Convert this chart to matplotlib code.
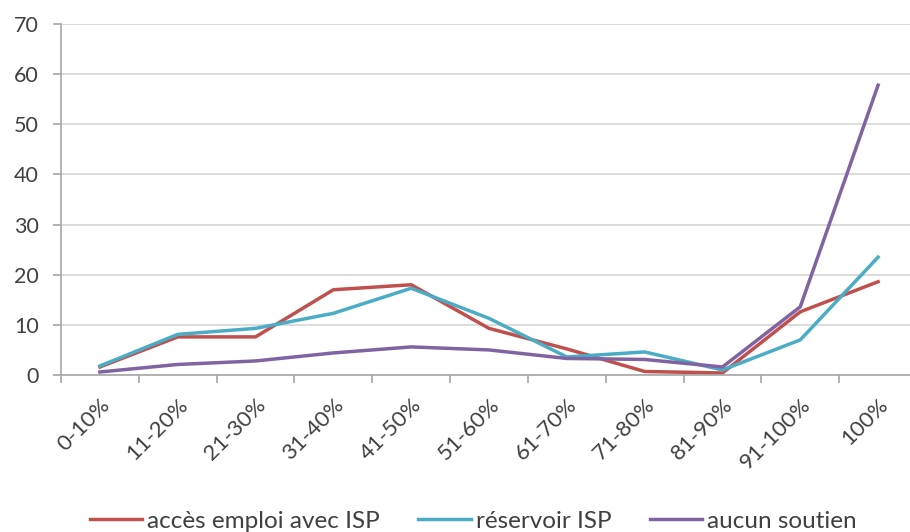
import numpy as np
import matplotlib; matplotlib.use("Agg")
import matplotlib.pyplot as plt
from matplotlib.ticker import FixedLocator, NullFormatter

plt.rcParams["font.family"] = ["Lato", "DejaVu Sans"]

categories = ["0-10%", "11-20%", "21-30%", "31-40%", "41-50%", "51-60%",
              "61-70%", "71-80%", "81-90%", "91-100%", "100%"]
acces_emploi = [1.6, 7.6, 7.6, 17.0, 18.0, 9.3, 5.2, 0.7, 0.4, 12.6, 18.6]
reservoir = [1.8, 8.1, 9.3, 12.3, 17.3, 11.3, 3.6, 4.6, 1.0, 7.0, 23.5]
aucun_soutien = [0.6, 2.1, 2.8, 4.4, 5.6, 5.0, 3.3, 3.1, 1.6, 13.6, 57.8]

W, H = 910, 532
fig = plt.figure(figsize=(W / 100, H / 100), dpi=100)
# plot area runs slightly past the right edge of the canvas
ax = fig.add_axes([61 / W, 1 - 375 / H, (917 - 61) / W, (375 - 24) / H])

x = np.arange(len(categories))
ax.plot(x, acces_emploi, color="#C0504D", lw=2.5, label="accès emploi avec ISP", solid_joinstyle="round")
ax.plot(x, reservoir, color="#4BACC6", lw=2.5, label="réservoir ISP", solid_joinstyle="round")
ax.plot(x, aucun_soutien, color="#8064A2", lw=2.5, label="aucun soutien", solid_joinstyle="round")

ax.set_xlim(-0.5, len(categories) - 0.5)
ax.set_ylim(0, 70)
ax.set_yticks(np.arange(0, 71, 10))
ax.yaxis.grid(True, color="#d9d9d9", lw=1.3)
ax.set_axisbelow(True)

for s in ["top", "right"]:
    ax.spines[s].set_visible(False)
for s in ["left", "bottom"]:
    ax.spines[s].set_color("#a6a6a6")
    ax.spines[s].set_linewidth(1.2)

ax.tick_params(axis="y", length=6, width=1.2, color="#a6a6a6", pad=10,
               labelsize=15.5, labelcolor="#404040")
ax.set_xticks(x)
ax.set_xticklabels(categories, rotation=45, ha="right", rotation_mode="anchor")
ax.tick_params(axis="x", which="major", length=0, pad=14, labelsize=16, labelcolor="#404040")
ax.xaxis.set_minor_locator(FixedLocator(np.arange(-0.5, len(categories), 1.0)))
ax.xaxis.set_minor_formatter(NullFormatter())
ax.tick_params(axis="x", which="minor", length=6, width=1.2, color="#a6a6a6")

fig.legend(loc="center", bbox_to_anchor=(0.52, 1 - 521 / H), ncol=3, frameon=False,
           fontsize=17.5, handlelength=2.15, handletextpad=0.2, columnspacing=1.6,
           labelcolor="#404040")

fig.savefig("out.png", dpi=100)
